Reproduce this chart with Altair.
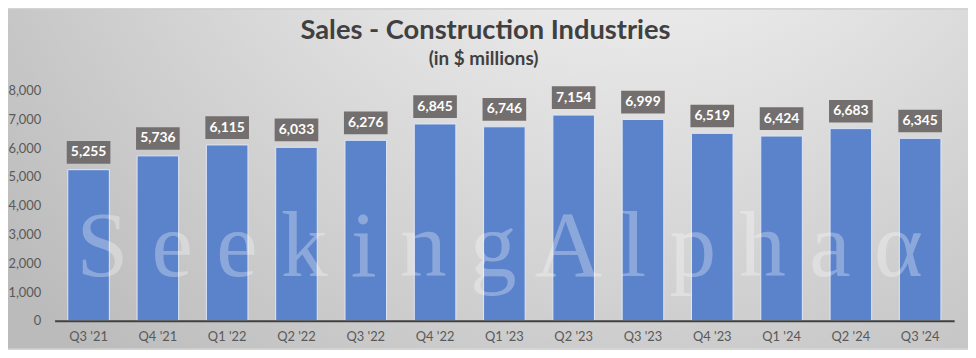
import altair as alt
import pandas as pd

quarters = ["Q3 '21", "Q4 '21", "Q1 '22", "Q2 '22", "Q3 '22", "Q4 '22", "Q1 '23",
            "Q2 '23", "Q3 '23", "Q4 '23", "Q1 '24", "Q2 '24", "Q3 '24"]
sales = [5255, 5736, 6115, 6033, 6276, 6845, 6746, 7154, 6999, 6519, 6424, 6683, 6345]
y_ticks = [0, 1000, 2000, 3000, 4000, 5000, 6000, 7000, 8000]
title_text = "Sales - Construction Industries"
subtitle_text = "(in $ millions)"
watermark = "S e e k i n g A l p h a\u00a0α"

W, H = 907, 232
PAD = {"left": 47, "top": 82, "right": 14, "bottom": 28}

df = pd.DataFrame({"q": quarters, "v": sales})
one = pd.DataFrame({"a": [0]})

FONT = "Lato"

bg = alt.Chart(one).mark_rect(
    fill=alt.RadialGradient(
        gradient="radial",
        x1=0.65, y1=0.05, r1=0.0,
        x2=0.65, y2=0.05, r2=0.85,
        stops=[alt.GradientStop(offset=0, color="#ffffff"),
               alt.GradientStop(offset=1, color="#bbbbbb")],
    )
).encode(
    x=alt.value(-PAD["left"]), x2=alt.value(W + PAD["right"]),
    y=alt.value(-PAD["top"]), y2=alt.value(H + PAD["bottom"]),
)

xenc = alt.X("q:N", sort=quarters,
             scale=alt.Scale(paddingInner=0.4, paddingOuter=0.19),
             axis=alt.Axis(title=None, labelAngle=0, labelFontSize=13, labelFont=FONT,
                           labelColor="#595959", labelPadding=10, ticks=False,
                           domainColor="#404040", domainWidth=2, zindex=1))
yenc = alt.Y("v:Q", scale=alt.Scale(domain=[0, 8000]),
             axis=alt.Axis(title=None, values=y_ticks, format=",.0f", labelFontSize=13,
                           labelFont=FONT, labelColor="#595959", labelPadding=14,
                           labelOverlap=False,
                           ticks=False, domain=False, grid=False, zindex=1))

bars = alt.Chart(df).mark_bar(color="#5B83CB", stroke="#dfe7f5", strokeWidth=1).encode(
    x=xenc, y=yenc)

wm = alt.Chart(one).mark_text(
    text=watermark, font="Liberation Serif", fontSize=94, color="white", opacity=0.3,
    align="left", baseline="alphabetic"
).encode(x=alt.value(22), y=alt.value(187))

boxes = alt.Chart(df).mark_point(
    shape="M-1,-0.52H1V0.52H-1Z", size=44 * 44, filled=True, color="#736F6E",
    opacity=1, yOffset=-17.5, strokeWidth=0
).encode(x=xenc, y=yenc)

labels = alt.Chart(df).mark_text(
    color="white", fontSize=14, fontWeight="bold", font=FONT, baseline="middle",
    yOffset=-17.5
).encode(x=xenc, y=yenc, text=alt.Text("v:Q", format=","))

title = alt.Chart(one).mark_text(
    text=title_text, font=FONT, fontSize=27.5, fontWeight="bold", color="#404040",
    align="center", baseline="alphabetic"
).encode(x=alt.value(434.5), y=alt.value(-52))

subtitle = alt.Chart(one).mark_text(
    text=subtitle_text, font=FONT, fontSize=19, fontWeight="bold", color="#404040",
    align="center", baseline="alphabetic"
).encode(x=alt.value(432.5), y=alt.value(-26))

chart = alt.layer(bg, bars, wm, boxes, labels, title, subtitle).properties(
    width=W, height=H,
    padding=PAD,
    autosize=alt.AutoSizeParams(type="none"),
).configure_view(stroke=None).configure(background="#d4d4d4")

chart.save("out.html", embed_options={"renderer": "svg", "actions": False})
